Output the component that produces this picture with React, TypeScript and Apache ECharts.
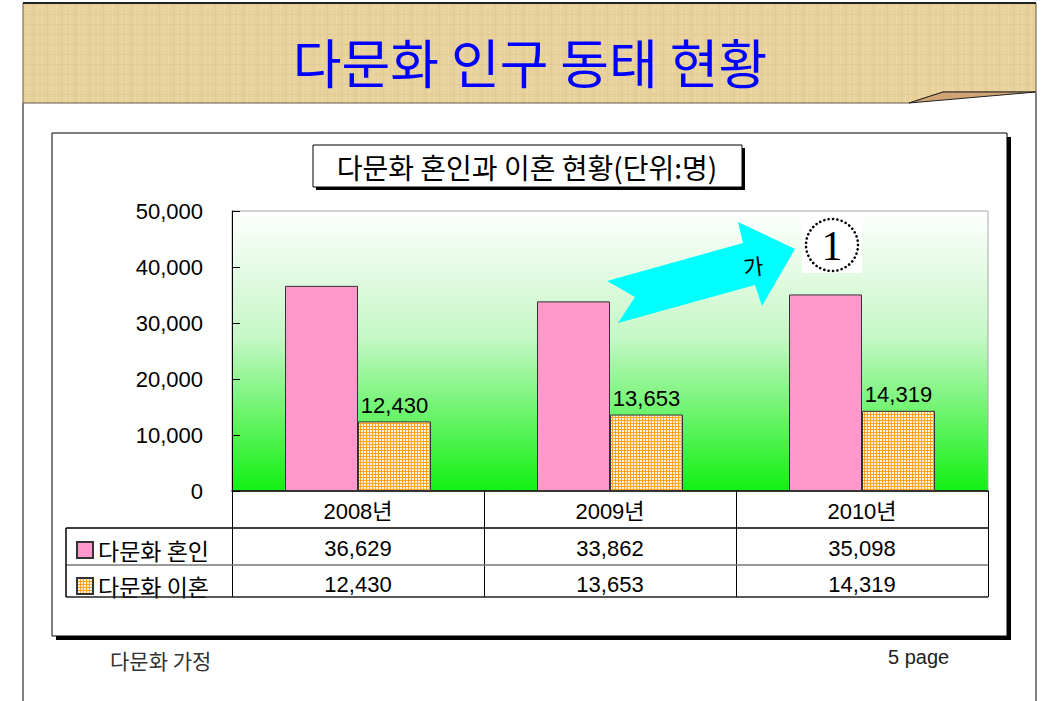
import React, { useEffect, useRef } from "react";
import * as echarts from "echarts";

const years = ["2008년", "2009년", "2010년"];
const marriage = [36629, 33862, 35098];
const divorce = [12430, 13653, 14319];
const seriesNames = ["다문화 혼인", "다문화 이혼"];
const yMin = 0;
const yMax = 50000;
const yInterval = 10000;
const pageTitle = "다문화 인구 동태 현황";
const chartTitle = "다문화 혼인과 이혼 현황(단위:명)";
const footerLeft = "다문화 가정";
const footerRight = "5 page";
const arrowText = "가";
const badgeText = "1";

const fmt = (v: number) => v.toLocaleString("en-US");

const SANS = "'Liberation Sans', 'Noto Sans CJK KR', sans-serif";
const KR = "'Noto Sans CJK KR', sans-serif";

// plot geometry
const GL = 232;
const GT = 211;
const GW = 756;
const GH = 280;

function makeCheck() {
  const c = document.createElement("canvas");
  c.width = 3;
  c.height = 3;
  const ctx = c.getContext("2d")!;
  ctx.fillStyle = "#fff4dc";
  ctx.fillRect(0, 0, 3, 3);
  ctx.fillStyle = "#ffa01e";
  ctx.fillRect(0, 0, 3, 1);
  ctx.fillRect(0, 0, 1, 3);
  return c;
}

function makeParchment() {
  const c = document.createElement("canvas");
  c.width = 14;
  c.height = 10;
  const ctx = c.getContext("2d")!;
  ctx.fillStyle = "#e8d19b";
  ctx.fillRect(0, 0, 14, 10);
  ctx.fillStyle = "#ecd9a9";
  ctx.fillRect(0, 0, 1, 10);
  ctx.fillRect(9, 0, 1, 10);
  ctx.fillStyle = "#e2ca92";
  ctx.fillRect(0, 4, 14, 1);
  ctx.fillRect(5, 0, 1, 10);
  return c;
}

export default function App() {
  const ref = useRef<HTMLDivElement>(null);
  useEffect(() => {
    if (!ref.current) return;
    const chart = echarts.init(ref.current, null, { renderer: "svg" });
    const checkFill: any = {
      image: makeCheck(),
      repeat: "repeat",
      imageWidth: 3,
      imageHeight: 3,
    };
    const parchFill: any = {
      image: makeParchment(),
      repeat: "repeat",
      imageWidth: 14,
      imageHeight: 10,
    };
    const tableRight = GL + GW;
    const tableLeft = 66;
    const rowY = [GT + GH, 528, 565, 597];

    const option: any = {
      animation: false,
      backgroundColor: "#ffffff",
      textStyle: { fontFamily: SANS },
      grid: {
        left: GL,
        top: GT,
        width: GW,
        height: GH,
        show: true,
        borderColor: "#a8a8a8",
        borderWidth: 1,
        backgroundColor: new echarts.graphic.LinearGradient(0, 0, 0, 1, [
          { offset: 0, color: "#ffffff" },
          { offset: 0.45, color: "#c6f7c6" },
          { offset: 1, color: "#12f012" },
        ]),
      },
      legend: {
        orient: "vertical",
        left: 71,
        top: 533,
        itemWidth: 16,
        itemHeight: 16,
        itemGap: 12,
        icon: "rect",
        textStyle: { fontSize: 23, lineHeight: 24, color: "#000", fontFamily: KR },
        data: seriesNames,
      },
      xAxis: {
        type: "category",
        data: years,
        axisLine: { show: true, lineStyle: { color: "#000", width: 1.5 } },
        axisTick: { show: true, length: rowY[3] - rowY[0], lineStyle: { color: "#000", width: 1 } },
        axisLabel: {
          margin: 1,
          color: "#000",
          formatter: (v: string, i: number) =>
            `{h|${v}}\n{v|${fmt(marriage[i])}}\n{v|${fmt(divorce[i])}}`,
          rich: {
            h: { fontSize: 22, lineHeight: 38, color: "#000", fontFamily: SANS },
            v: { fontSize: 22, lineHeight: 36, color: "#000", fontFamily: SANS },
          },
        },
      },
      yAxis: {
        type: "value",
        min: yMin,
        max: yMax,
        interval: yInterval,
        axisLine: { show: true, lineStyle: { color: "#000", width: 1 } },
        axisTick: { show: true, inside: true, length: 8, lineStyle: { color: "#000" } },
        splitLine: { show: false },
        axisLabel: { fontSize: 22, color: "#000", margin: 29, formatter: (v: number) => fmt(v) },
      },
      series: [
        {
          name: seriesNames[0],
          type: "bar",
          data: marriage,
          barWidth: 73,
          barGap: "0%",
          itemStyle: { color: "#ff99cc", borderColor: "#333", borderWidth: 1 },
        },
        {
          name: seriesNames[1],
          type: "bar",
          data: divorce,
          barWidth: 73,
          barGap: "0%",
          itemStyle: { color: checkFill, borderColor: "#333", borderWidth: 1 },
          label: {
            show: true,
            position: "top",
            distance: 5,
            fontSize: 22,
            color: "#000",
            fontFamily: SANS,
            formatter: (p: any) => fmt(p.value),
          },
        },
      ],
      graphic: [
        // header band
        {
          type: "polygon",
          z: -20,
          shape: { points: [[23, 3], [1036, 3], [1036, 92], [943, 92], [909, 103], [23, 103]] },
          style: { fill: parchFill, stroke: "#6a5a40", lineWidth: 1 },
        },
        {
          type: "line",
          z: -19,
          shape: { x1: 23, y1: 3, x2: 1036, y2: 3 },
          style: { stroke: "#222", lineWidth: 2 },
        },
        {
          type: "polygon",
          z: -19,
          shape: { points: [[909, 103], [943, 92], [1036, 92]] },
          style: { fill: "#d0a573", stroke: "#222", lineWidth: 1 },
        },
        {
          type: "line",
          z: -19,
          shape: { x1: 23, y1: 103, x2: 23, y2: 701 },
          style: { stroke: "#808080", lineWidth: 2 },
        },
        {
          type: "line",
          z: -19,
          shape: { x1: 1036, y1: 92, x2: 1036, y2: 701 },
          style: { stroke: "#808080", lineWidth: 2 },
        },
        {
          type: "text",
          z: -18,
          x: 530,
          y: 61,
          style: {
            text: pageTitle,
            fontSize: 53,
            fontFamily: KR,
            fill: "#0000ff",
            align: "center",
            verticalAlign: "middle",
          },
        },
        // chart frame
        {
          type: "rect",
          z: -15,
          shape: { x: 56, y: 137, width: 955, height: 503 },
          style: { fill: "#000" },
        },
        {
          type: "rect",
          z: -14,
          shape: { x: 52, y: 133, width: 955, height: 503 },
          style: { fill: "#fff", stroke: "#000", lineWidth: 1 },
        },
        // chart title box
        {
          type: "rect",
          z: -13,
          shape: { x: 316, y: 148, width: 429, height: 42 },
          style: { fill: "#000" },
        },
        {
          type: "rect",
          z: -12,
          shape: { x: 313, y: 145, width: 429, height: 42 },
          style: { fill: "#fff", stroke: "#000", lineWidth: 1 },
        },
        {
          type: "text",
          z: -11,
          x: 527,
          y: 167,
          style: {
            text: chartTitle,
            fontSize: 28,
            fontFamily: KR,
            fill: "#000",
            align: "center",
            verticalAlign: "middle",
          },
        },
        // data table lines
        {
          type: "line",
          z: 5,
          shape: { x1: tableLeft, y1: rowY[1], x2: tableRight, y2: rowY[1] },
          style: { stroke: "#000", lineWidth: 1.5 },
        },
        {
          type: "line",
          z: 5,
          shape: { x1: tableLeft, y1: rowY[2], x2: tableRight, y2: rowY[2] },
          style: { stroke: "#777", lineWidth: 1.5 },
        },
        {
          type: "line",
          z: 5,
          shape: { x1: tableLeft, y1: rowY[3], x2: tableRight, y2: rowY[3] },
          style: { stroke: "#222", lineWidth: 1.5 },
        },
        {
          type: "line",
          z: 5,
          shape: { x1: tableLeft, y1: rowY[1], x2: tableLeft, y2: rowY[3] },
          style: { stroke: "#000", lineWidth: 1.5 },
        },
        // arrow
        {
          type: "polygon",
          z: 10,
          shape: {
            points: [
              [607, 281], [743, 243], [738, 222], [795, 249],
              [762, 306], [755, 285], [618, 323], [635, 297],
            ],
          },
          style: { fill: "#00ffff" },
        },
        {
          type: "text",
          z: 11,
          x: 753,
          y: 265,
          rotation: 0.12,
          style: {
            text: arrowText,
            fontSize: 22,
            fontFamily: KR,
            fill: "#000",
            align: "center",
            verticalAlign: "middle",
          },
        },
        // circled badge
        {
          type: "rect",
          z: 10,
          shape: { x: 802, y: 218, width: 60, height: 55 },
          style: { fill: "#fff" },
        },
        {
          type: "circle",
          z: 11,
          shape: { cx: 832, cy: 245, r: 26 },
          style: { fill: "#fff", stroke: "#000", lineWidth: 2.6, lineDash: [0.1, 4.3], lineCap: "round" },
        },
        {
          type: "text",
          z: 12,
          x: 832,
          y: 246,
          style: {
            text: badgeText,
            fontSize: 42,
            fontFamily: "'Liberation Serif', 'DejaVu Serif', serif",
            fill: "#000",
            align: "center",
            verticalAlign: "middle",
          },
        },
        // footer
        {
          type: "text",
          z: 5,
          x: 110,
          y: 660,
          style: {
            text: footerLeft,
            fontSize: 21,
            fontFamily: KR,
            fill: "#333",
            align: "left",
            verticalAlign: "middle",
          },
        },
        {
          type: "text",
          z: 5,
          x: 888,
          y: 657,
          style: {
            text: footerRight,
            fontSize: 20,
            fontFamily: SANS,
            fill: "#222",
            align: "left",
            verticalAlign: "middle",
          },
        },
      ],
    };
    chart.setOption(option);
    return () => chart.dispose();
  }, []);
  return (
    <div
      ref={ref}
      style={{ position: "fixed", left: 0, top: 0, width: 1053, height: 701 }}
    />
  );
}
